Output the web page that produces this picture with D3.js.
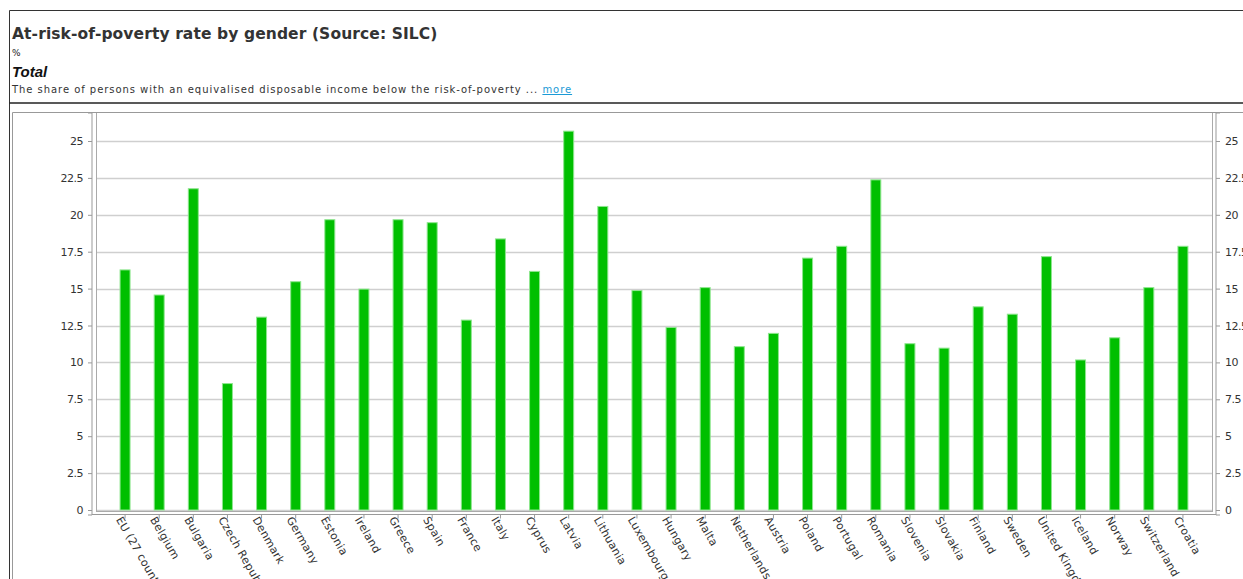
<!DOCTYPE html>
<html><head><meta charset="utf-8">
<script src="https://cdn.jsdelivr.net/npm/d3@7/dist/d3.min.js"></script>
<style>
html,body{margin:0;padding:0;background:#fff;overflow:hidden;}
svg{display:block;}
</style></head>
<body>
<svg id="chart" width="1243" height="579"></svg>
<script>
const categories = ["EU (27 countries)","Belgium","Bulgaria","Czech Republic","Denmark","Germany","Estonia","Ireland","Greece","Spain","France","Italy","Cyprus","Latvia","Lithuania","Luxembourg","Hungary","Malta","Netherlands","Austria","Poland","Portugal","Romania","Slovenia","Slovakia","Finland","Sweden","United Kingdom","Iceland","Norway","Switzerland","Croatia"];
const values = [16.3,14.6,21.8,8.6,13.1,15.5,19.7,15.0,19.7,19.5,12.9,18.4,16.2,25.7,20.6,14.9,12.4,15.1,11.1,12.0,17.1,17.9,22.4,11.3,11.0,13.8,13.3,17.2,10.2,11.7,15.1,17.9];
const yTicks = [0,2.5,5,7.5,10,12.5,15,17.5,20,22.5,25];
const yTickLabels = ["0","2.5","5","7.5","10","12.5","15","17.5","20","22.5","25"];
const titleText = "At-risk-of-poverty rate by gender (Source: SILC)";
const unitText = "%";
const subTitle = "Total";
const descText = "The share of persons with an equivalised disposable income below the risk-of-poverty ... ";
const linkText = "more";

const svg = d3.select("#chart");
const W = 1243, H = 579;

// header frame
svg.append("line").attr("x1",9.5).attr("y1",10.5).attr("x2",W).attr("y2",10.5).attr("stroke","#333").attr("stroke-width",1);
svg.append("line").attr("x1",9.5).attr("y1",10.5).attr("x2",9.5).attr("y2",H).attr("stroke","#333").attr("stroke-width",1);
svg.append("line").attr("x1",9.5).attr("y1",103).attr("x2",W).attr("y2",103).attr("stroke","#222").attr("stroke-width",1.5);

svg.append("text").attr("x",12).attr("y",39).attr("font-family","DejaVu Sans, Verdana, sans-serif").attr("font-weight","bold").attr("font-size",15.5).attr("letter-spacing","0.1px").attr("fill","#333").text(titleText);
svg.append("text").attr("x",12).attr("y",56).attr("font-family","DejaVu Sans, sans-serif").attr("font-size",9).attr("fill","#222").text(unitText);
svg.append("text").attr("x",12).attr("y",77).attr("font-family","Liberation Sans, Arial, sans-serif").attr("font-weight","bold").attr("font-style","italic").attr("font-size",15).attr("fill","#111").text(subTitle);
const desc = svg.append("text").attr("x",12).attr("y",93).attr("font-family","DejaVu Sans, Verdana, sans-serif").attr("font-size",10).attr("fill","#333").attr("letter-spacing","0.95px");
desc.append("tspan").text(descText);
desc.append("tspan").attr("fill","#1b9ad6").attr("text-decoration","underline").text(linkText);

// plot frame
const frameL = 12.5, frameT = 112.5;
svg.append("line").attr("x1",frameL).attr("y1",frameT).attr("x2",W).attr("y2",frameT).attr("stroke","#999");
svg.append("line").attr("x1",frameL).attr("y1",frameT).attr("x2",frameL).attr("y2",H).attr("stroke","#999");

const plotL = 97, plotR = 1212, plotT = 113, plotB = 510;

const x = d3.scaleBand().domain(categories).range([108, 1200]).paddingInner(0.678).paddingOuter(0.339);
const y = d3.scaleLinear().domain([0,25]).range([plotB, 141]);

// grid
svg.append("g").selectAll("line").data(yTicks).join("line")
  .attr("x1",plotL).attr("x2",plotR)
  .attr("y1",d=>Math.round(y(d))+0.5).attr("y2",d=>Math.round(y(d))+0.5)
  .attr("stroke","#cfcfcf").attr("stroke-width",1.3);

// plot borders
svg.append("line").attr("x1",plotL-0.5).attr("x2",plotL-0.5).attr("y1",plotT).attr("y2",plotB+2).attr("stroke","#aaa");
svg.append("line").attr("x1",plotR+0.5).attr("x2",plotR+0.5).attr("y1",plotT).attr("y2",plotB+2).attr("stroke","#aaa");
svg.append("line").attr("x1",plotL-0.5).attr("x2",plotR+0.5).attr("y1",plotB+1.5).attr("y2",plotB+1.5).attr("stroke","#aaa");

// bars
svg.append("g").selectAll("rect").data(values).join("rect")
  .attr("x",(d,i)=>x(categories[i])+0.5)
  .attr("width",x.bandwidth()-1)
  .attr("y",d=>y(d)+0.5)
  .attr("height",d=>plotB-y(d)-0.5)
  .attr("fill","#00bf00").attr("stroke","#8ee68e").attr("stroke-width",1);

// axes
const tickFmt = (d)=>yTickLabels[yTicks.indexOf(d)];
const axFont = "DejaVu Sans, Verdana, sans-serif";
const gl = svg.append("g").attr("transform",`translate(${plotL-5},0)`)
  .call(d3.axisLeft(y).tickValues(yTicks).tickFormat(tickFmt).tickSize(4).tickPadding(5));
const gr = svg.append("g").attr("transform",`translate(${plotR+4},0)`)
  .call(d3.axisRight(y).tickValues(yTicks).tickFormat(tickFmt).tickSize(4).tickPadding(5));
const gb = svg.append("g").attr("transform",`translate(0,${plotB+4.5})`)
  .call(d3.axisBottom(x).tickSize(4).tickPadding(5));
[gl,gr,gb].forEach(g=>{
  g.select(".domain").attr("stroke","#999");
  g.selectAll(".tick line").attr("stroke","#999");
  g.selectAll("text").attr("font-family",axFont).attr("font-size",11).attr("fill","#333");
});
gl.selectAll("text").attr("letter-spacing","-0.5px");
gr.selectAll("text").attr("letter-spacing","-0.5px");
gl.select(".domain").attr("d",`M-4,${plotT}H0V${plotB+5}H-4`);
gr.select(".domain").attr("d",`M4,${plotT}H0V${plotB+5}H4`);
gb.select(".domain").attr("d",`M${plotL-5},0H${plotR+4}`);
gb.selectAll(".tick text")
  .attr("text-anchor","start")
  .attr("transform","translate(-6,3) rotate(60)")
  .attr("x",0).attr("y",0).attr("dy","0.35em").attr("letter-spacing","0.3px");
</script>
</body></html>
